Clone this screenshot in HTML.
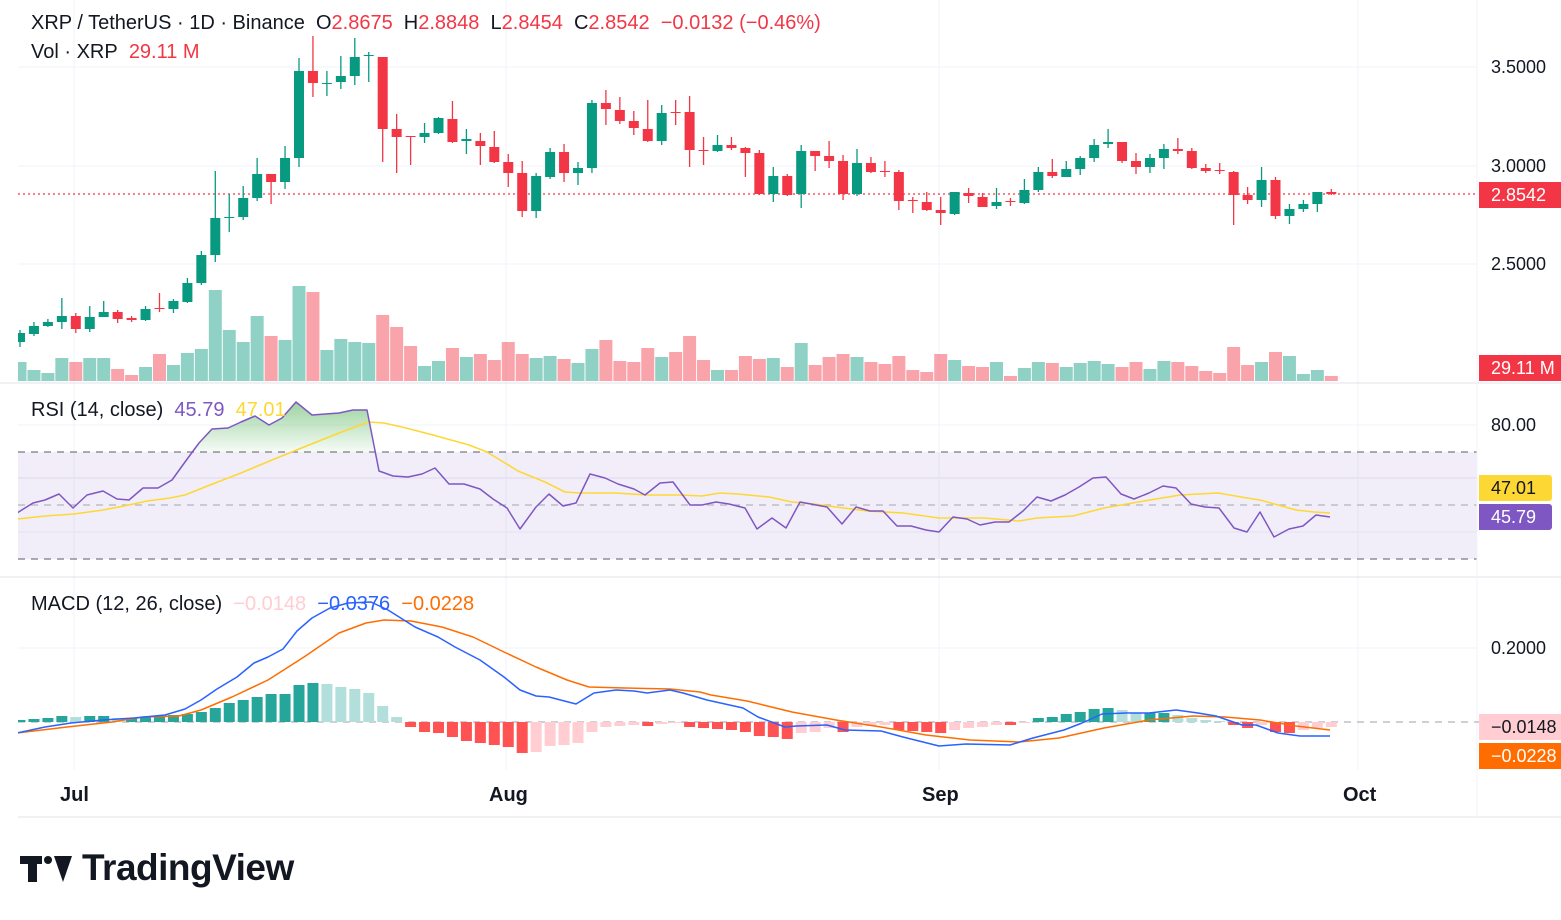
<!DOCTYPE html>
<html><head><meta charset="utf-8"><style>
body{margin:0;background:#fff;width:1561px;height:920px;overflow:hidden;font-family:"Liberation Sans",sans-serif;}
svg{position:absolute;left:0;top:0}
.t{position:absolute;font-size:20px;color:#131722;white-space:nowrap}
.ax{position:absolute;left:1491px;font-size:18px;color:#131722}
.tag{position:absolute;left:1479px;font-size:18px;color:#fff;padding-left:12px;box-sizing:border-box;line-height:26px;height:26px;white-space:nowrap;overflow:hidden}
</style></head><body>
<svg id="s" width="1561" height="920" xmlns="http://www.w3.org/2000/svg"></svg>
<div class="t" style="left:31px;top:12px">XRP / TetherUS · 1D · Binance&nbsp; <span style="color:#131722">O</span><span style="color:#f23645">2.8675</span>&nbsp; H<span style="color:#f23645">2.8848</span>&nbsp; L<span style="color:#f23645">2.8454</span>&nbsp; C<span style="color:#f23645">2.8542</span>&nbsp; <span style="color:#f23645">−0.0132 (−0.46%)</span></div>
<div class="t" style="left:31px;top:41px">Vol · XRP&nbsp; <span style="color:#f23645">29.11 M</span></div>
<div class="t" style="left:31px;top:399px">RSI (14, close)&nbsp; <span style="color:#7e57c2">45.79</span>&nbsp; <span style="color:#fdd835">47.01</span></div>
<div class="t" style="left:31px;top:593px">MACD (12, 26, close)&nbsp; <span style="color:#ffcdd2">−0.0148</span>&nbsp; <span style="color:#2962ff">−0.0376</span>&nbsp; <span style="color:#ff6d00">−0.0228</span></div>
<div class="ax" style="top:57px">3.5000</div>
<div class="ax" style="top:156px">3.0000</div>
<div class="ax" style="top:254px">2.5000</div>
<div class="ax" style="top:415px">80.00</div>
<div class="ax" style="top:638px">0.2000</div>
<div class="tag" style="top:182px;width:82px;background:#f23645">2.8542</div>
<div class="tag" style="top:355px;width:82px;background:#f23645">29.11 M</div>
<div class="tag" style="top:475px;width:73px;background:#fdd835;color:#131722;border-radius:0 3px 3px 0">47.01</div>
<div class="tag" style="top:504px;width:73px;background:#7e57c2;border-radius:0 3px 3px 0">45.79</div>
<div class="tag" style="top:714px;width:82px;background:#ffcdd2;color:#131722">−0.0148</div>
<div class="tag" style="top:743px;width:82px;background:#ff6d00">−0.0228</div>
<div class="t" style="left:60px;top:784px;font-weight:bold">Jul</div>
<div class="t" style="left:489px;top:784px;font-weight:bold">Aug</div>
<div class="t" style="left:922px;top:784px;font-weight:bold">Sep</div>
<div class="t" style="left:1343px;top:784px;font-weight:bold">Oct</div>
<div style="position:absolute;left:20px;top:854px;width:52px;height:30px">
<div style="position:absolute;left:0;top:2px;width:22px;height:8px;background:#131722"></div>
<div style="position:absolute;left:8px;top:2px;width:9px;height:26px;background:#131722"></div>
<div style="position:absolute;left:24px;top:2px;width:8px;height:8px;border-radius:50%;background:#131722"></div>
<div style="position:absolute;left:34px;top:2px;width:0;height:0;border-left:9px solid transparent;border-right:9px solid transparent;border-top:26px solid #131722"></div>
</div>
<div class="t" style="left:82px;top:847px;font-size:37px;font-weight:bold;letter-spacing:-0.5px">TradingView</div>
<script>
var s=document.getElementById('s'),h='';
function L(x1,y1,x2,y2,c,w,d){h+='<line x1="'+x1+'" y1="'+y1+'" x2="'+x2+'" y2="'+y2+'" stroke="'+c+'" stroke-width="'+(w||1)+'"'+(d?' stroke-dasharray="'+d+'"':'')+'/>';}
function R(x,y,w,hh,c){if(hh<0){y+=hh;hh=-hh;}h+='<rect x="'+x+'" y="'+y+'" width="'+w+'" height="'+Math.max(hh,1)+'" fill="'+c+'"/>';}
function P(pts,c,w){h+='<polyline fill="none" stroke="'+c+'" stroke-width="'+w+'" stroke-linejoin="round" points="'+pts.map(p=>p.join(',')).join(' ')+'"/>';}
h+='<defs><clipPath id="cp"><rect x="18" y="0" width="1459" height="800"/></clipPath><linearGradient id="g" x1="0" y1="0" x2="0" y2="1"><stop offset="0" stop-color="#4caf50" stop-opacity="0.55"/><stop offset="1" stop-color="#4caf50" stop-opacity="0.05"/></linearGradient></defs>';
[67,166,264,425,532,648].forEach(y=>L(18,y,1477,y,'#f0f3fa'));
[478].forEach(y=>L(18,y,1477,y,'#e9e6f2'));
[74,506,939,1358].forEach(x=>L(x,0,x,770,'#f0f3fa'));
R(18,452,1459,107,'rgba(126,87,194,0.1)');
L(18,452,1477,452,'#787b86',1.2,'7 6');L(18,559,1477,559,'#787b86',1.2,'7 6');L(18,505,1477,505,'#b2b5be',1.2,'7 6');
L(0,383,1561,383,'#e0e3eb');L(0,577,1561,577,'#e0e3eb');L(18,817,1561,817,'#e0e3eb');L(1477,0,1477,817,'#f0f3fa');
L(18,722,1561,722,'#b2b5be',1.2,'7 6');
L(18,194,1477,194,'#f23645',1.2,'2 3');
h+='<g clip-path="url(#cp)">';
var C=[[342,333,330,347],[334,326,322,336],[326,322,319,327],[322,316,298,329],[316,329,313,333],[329,317,306,332],[317,312,301,317],[312,319,310,323],[318,320,316,322],[320,309,306,321],[308,309,293,312],[309,301,299,313],[302,283,278,303],[283,255,251,285],[255,218,171,262],[218,217,194,232],[217,198,186,220],[198,174,158,201],[174,182,174,204],[182,158,146,189],[158,71,58,167],[71,83,36,97],[83,83,71,96],[82,76,56,89],[76,57,38,85],[56,55,52,82],[57,129,57,162],[129,137,114,173],[136,137,136,165],[137,133,123,143],[133,118,117,134],[119,142,101,143],[141,139,129,154],[141,146,133,165],[147,162,131,163],[162,173,154,187],[173,211,161,217],[211,176,173,218],[177,152,148,179],[152,173,144,182],[173,168,162,185],[168,103,100,173],[103,109,90,125],[110,121,97,124],[121,128,111,135],[129,141,100,142],[141,113,105,145],[112,112,100,125],[112,150,96,167],[150,151,137,165],[151,145,135,152],[145,148,137,150],[148,153,147,177],[153,194,150,195],[194,176,167,202],[176,195,174,196],[194,151,145,208],[151,156,151,171],[156,161,141,168],[161,194,155,200],[194,163,149,196],[163,172,157,173],[171,171.5,161,177],[172,201,170,210],[200,200.5,197,213],[202,210,192,211],[210,213,197,225],[214,192,192,215],[193,196,188,203],[197,207,193,207],[206,202,188,209],[201,202,198,206],[203,190,179,204],[190,172,167,192],[172,176,159,178],[177,169,161,177],[169,158,156,175],[158,145,139,162],[144,142,129,148],[142,161,142,163],[161,167,153,174],[167,158,154,173],[158,149,144,169],[149,151,138,154],[151,168,148,169],[168,171,164,173],[170,171,163,174],[172,195,171,225],[195,200,187,204],[200,180,167,207],[180,216,177,219],[216,209,204,224],[209,204,200,212],[204,192,192,212],[192,194,189,195]];
var V=[362,370,373,358,362,358,358,369,375,367,354,365,353,349,290,330,342,316,336,340,286,292,350,339,342,343,315,327,346,366,361,348,357,354,360,342,354,358,356,359,363,349,340,361,362,348,357,352,336,360,370,370,356,359,358,367,343,365,357,354,357,362,364,356,370,372,354,360,366,367,362,376,368,362,363,367,363,361,364,367,362,369,361,362,366,371,373,347,365,362,352,356,374,370,376];
C.forEach((c,i)=>{var x=20+13.95*i,up=c[1]<c[0]||(c[1]==c[0]&&i%2==0);var col=up?'#089981':'#f23645';
R(x-6.5,V[i],13,381-V[i],up?'rgba(8,153,129,0.45)':'rgba(242,54,69,0.45)');
L(x,c[2],x,c[3],col,1.3);R(x-5,Math.min(c[0],c[1]),10,Math.abs(c[1]-c[0]),col);});
var Hs=[720,719,718,716,717,716,716,718,718,717,716,715,714,712,708,703,700,697,694,694,685,683,684,687,689,693,706,717,727,732,733,737,741,743,745,747,753,752,746,745,743,732,727,726,725,726,724,723,727,728,729,730,732,736,737,739,733,732,728,732,727,726,725,730,731,732,733,730,728,727,725,725,723,718,717,714,712,709,708,710,713,713,713,715,718,720,721,725,728,725,732,733,730,728,727];
var prev=722;Hs.forEach((v,i)=>{var x=20+13.95*i,d=722-v,pd=722-prev,col;
if(d>=0)col=d>=pd?'#26a69a':'#b2dfdb';else col=d<=pd?'#ff5252':'#ffcdd2';
R(x-5.5,722,11,v-722,col);prev=v;});
h+='<polygon fill="url(#g)" points="190,452 199,443 212,429 228,428 241,422 255,416 269,425 282,418 296,402 312,415 339,413 353,410 367,410 374,452"/>';
P([[17,519],[45,516],[74,514],[103,510],[129,505],[147,501],[170,498],[185,495],[210,485],[241,473],[272,460],[304,447],[339,433],[368,422],[384,423],[402,427],[433,435],[469,445],[487,452],[518,471],[545,482],[565,492],[580,493],[616,493],[647,495],[680,495],[702,496],[720,493],[738,494],[769,497],[792,502],[814,504],[836,507],[867,511],[903,513],[939,518],[984,518],[1019,521],[1037,518],[1073,516],[1104,508],[1144,501],[1180,495],[1218,493],[1247,498],[1260,500],[1296,510],[1314,512],[1330,513]],'#fdd835',1.6);
P([[17,513],[33,503],[45,500],[59,494],[73,508],[87,495],[103,491],[117,499],[129,500],[143,488],[158,488],[172,480],[185,462],[199,443],[212,429],[228,428],[241,422],[255,416],[269,425],[282,418],[296,402],[312,415],[339,413],[353,410],[367,410],[379,471],[393,476],[408,477],[422,474],[435,468],[449,484],[464,484],[480,489],[493,499],[507,508],[520,529],[536,507],[549,494],[563,506],[576,503],[590,474],[605,478],[618,484],[634,489],[645,495],[660,483],[673,482],[690,505],[702,505],[716,502],[729,504],[745,508],[757,529],[772,518],[786,528],[800,502],[827,507],[842,524],[856,507],[870,511],[883,511],[897,526],[911,526],[926,530],[939,532],[953,517],[967,519],[980,525],[995,522],[1009,522],[1023,511],[1037,497],[1051,501],[1065,495],[1079,487],[1093,478],[1106,477],[1121,494],[1134,499],[1149,493],[1163,486],[1176,488],[1191,504],[1205,507],[1219,508],[1234,528],[1247,532],[1260,512],[1274,537],[1289,529],[1303,526],[1316,515],[1330,517]],'#7e57c2',1.5);
P([[17,733],[67,727],[112,722],[143,717],[179,716],[201,710],[232,697],[268,680],[304,657],[339,633],[366,623],[384,620],[411,621],[442,627],[473,637],[504,652],[536,667],[567,680],[589,687],[625,688],[670,689],[700,692],[711,695],[747,701],[792,712],[836,720],[881,727],[926,735],[970,740],[1019,742],[1059,738],[1104,728],[1149,720],[1193,716],[1225,717],[1260,720],[1296,726],[1330,730]],'#ff6d00',1.5);
P([[17,733],[45,727],[71,723],[103,720],[134,718],[165,715],[185,709],[201,700],[217,689],[237,677],[254,663],[268,657],[283,649],[297,631],[312,618],[330,608],[348,603],[371,602],[388,610],[415,627],[438,637],[455,647],[480,660],[504,677],[520,690],[536,696],[549,697],[576,704],[594,693],[616,690],[634,691],[647,693],[670,690],[683,693],[707,700],[743,708],[758,717],[785,727],[796,726],[827,725],[845,730],[881,731],[903,737],[939,746],[966,744],[1010,745],[1033,738],[1064,730],[1082,723],[1102,714],[1126,713],[1149,713],[1176,710],[1198,713],[1216,716],[1242,725],[1256,725],[1278,733],[1300,736],[1330,736]],'#2962ff',1.5);
h+='</g>';
s.innerHTML=h;
</script>
</body></html>
